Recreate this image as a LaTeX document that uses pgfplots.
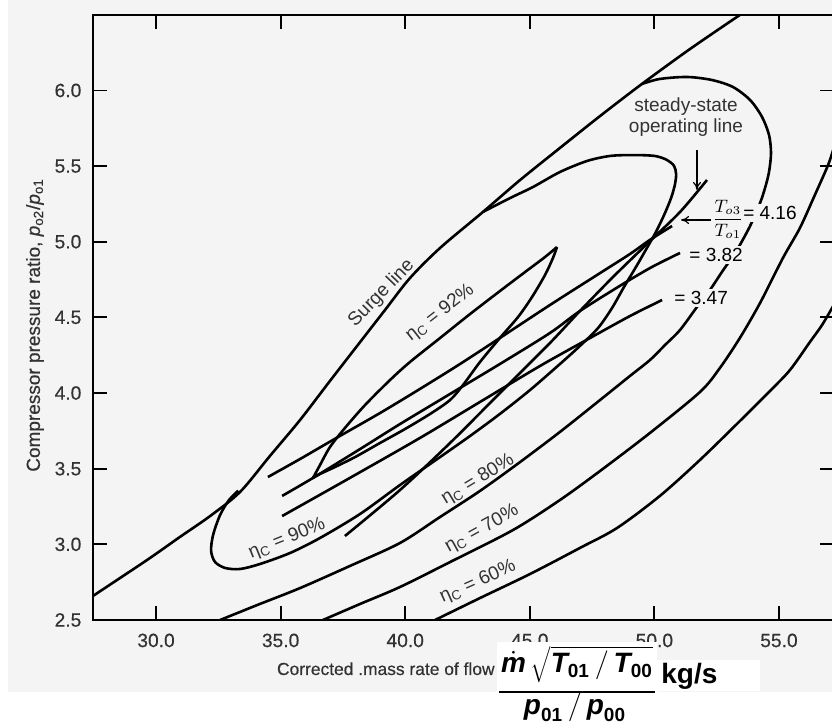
\documentclass[border=0pt]{standalone}
\usepackage{fontspec}
\setmainfont{Liberation Sans}
\newfontfamily\tickfont{Liberation Sans}[FakeBold=0.4]
\usepackage{pgfplots}
\pgfplotsset{compat=1.18}
\usetikzlibrary{arrows.meta}
\definecolor{bg}{RGB}{244,244,244}
\definecolor{txt}{RGB}{50,50,50}
\newcommand{\bi}[1]{\mbox{\bfseries\itshape #1}}
\newcommand{\bsub}[1]{\mbox{\fontsize{9.5}{10}\selectfont\bfseries #1}}
\newcommand{\etac}{η\textsubscript{C}}
\tikzset{
  curve/.style={black, line width=1.3pt, smooth, tension=0.5},
  lbl/.style={font=\fontsize{9.5}{11}\selectfont, text=txt, inner sep=0pt},
}
\begin{document}
\begin{tikzpicture}
\useasboundingbox (0,0) rectangle (416pt,361pt);
\fill[bg] (4pt,15pt) rectangle (416pt,361pt);
\begin{axis}[
  at={(46.5pt,51pt)}, anchor=south west, scale only axis,
  width=370.4pt, height=302.6pt,
  xmin=27.47, xmax=57.2, ymin=2.5, ymax=6.5,
  xtick={30,35,40,45,50,55}, xticklabels={30.0,35.0,40.0,45.0,50.0,55.0},
  ytick={2.5,3,3.5,4,4.5,5,5.5,6}, yticklabels={2.5,3.0,3.5,4.0,4.5,5.0,5.5,6.0},
  tick align=inside, major tick length=7pt,
  tick style={line width=0.9pt, black},
  axis line style={line width=1pt},
  tick label style={font=\tickfont\fontsize{9.6}{11}\selectfont, text=txt},
  xticklabel style={yshift=-3.3pt},
  yticklabel style={xshift=-2.3pt},
  clip mode=individual,
]
% surge line
\addplot[curve] coordinates {(27.47,2.659) (28.56,2.778) (29.76,2.910) (30.96,3.049) (32.17,3.187) (33.37,3.346) (34.57,3.584) (35.78,3.822) (36.98,4.080) (38.19,4.337) (39.19,4.549) (40.19,4.760) (41.40,4.959) (43.12,5.197) (44.61,5.408) (46.21,5.620) (47.82,5.831) (49.50,6.043) (51.43,6.274) (53.43,6.499)};
% eta = 90%
\addplot[curve] coordinates {(43.12,5.197) (44.21,5.289) (45.13,5.362) (46.21,5.461) (47.30,5.534) (48.22,5.567) (49.14,5.573) (50.02,5.567) (50.51,5.540) (50.79,5.501) (50.87,5.448) (50.83,5.382) (50.67,5.289) (50.39,5.177) (50.06,5.064) (49.70,4.959) (49.26,4.833) (48.78,4.701) (48.30,4.562) (47.74,4.430) (47.01,4.311) (46.21,4.192) (45.01,4.020) (43.80,3.862) (42.60,3.716) (41.40,3.577) (39.79,3.392) (38.19,3.201) (36.58,3.042) (35.38,2.943) (34.17,2.870) (33.37,2.837) (32.77,2.844) (32.37,2.883) (32.21,2.956) (32.29,3.062) (32.57,3.194) (32.93,3.293) (33.30,3.355)};
% eta = 92% (upper and lower branch)
\addplot[curve] coordinates {(36.30,3.439) (36.58,3.524) (36.98,3.643) (37.58,3.769) (38.39,3.921) (39.39,4.086) (40.19,4.205) (41.40,4.364) (42.60,4.522) (43.80,4.674) (44.81,4.800) (45.61,4.899) (46.09,4.965)};
\addplot[curve] coordinates {(46.09,4.965) (45.93,4.893) (45.61,4.780) (45.09,4.635) (44.53,4.503) (43.80,4.364) (43.00,4.205) (42.32,4.053) (41.80,3.954) (41.00,3.862) (39.99,3.762) (38.99,3.670) (37.99,3.577) (37.18,3.511) (36.58,3.465) (36.30,3.439)};
% T03/T01 = 4.16
\addplot[curve] coordinates {(34.49,3.445) (35.78,3.564) (37.10,3.690) (38.99,3.868) (40.59,4.027) (42.20,4.192) (43.80,4.364) (45.81,4.582) (47.82,4.793) (49.02,4.919) (49.82,5.012) (50.71,5.104)};
% T03/T01 = 3.82
\addplot[curve] coordinates {(35.06,3.320) (36.30,3.439) (38.19,3.630) (39.79,3.795) (41.80,3.994) (43.80,4.192) (45.81,4.397) (47.01,4.542) (48.74,4.721) (49.90,4.833) (51.03,4.926)};
% T03/T01 = 3.47
\addplot[curve] coordinates {(35.06,3.187) (37.78,3.439) (40.59,3.703) (43.00,3.941) (45.41,4.179) (47.42,4.364) (49.02,4.509) (50.31,4.615)};
% steady-state operating line
\addplot[curve] coordinates {(37.58,3.055) (39.79,3.359) (41.80,3.670) (43.80,4.000) (45.81,4.331) (47.01,4.542) (48.34,4.767) (49.70,4.985) (51.03,5.197) (52.11,5.408)};
% eta = 80%
\addplot[curve] coordinates {(32.57,2.5) (34.17,2.606) (35.78,2.711) (37.78,2.857) (39.79,3.009) (41.40,3.181) (43.00,3.353) (44.61,3.544) (46.21,3.743) (47.82,3.954) (49.02,4.113) (49.82,4.218) (50.43,4.318) (51.03,4.417) (51.71,4.569) (52.23,4.681) (52.71,4.800) (53.31,4.945) (53.84,5.104) (54.24,5.256) (54.44,5.355) (54.60,5.461) (54.68,5.587) (54.60,5.706) (54.32,5.825) (53.84,5.937) (53.15,6.023) (52.31,6.069) (51.31,6.089) (50.22,6.076) (49.50,6.043)};
% eta = 70%
\addplot[curve] coordinates {(36.70,2.5) (38.19,2.606) (39.79,2.718) (41.80,2.883) (44.33,3.095) (46.21,3.293) (47.82,3.485) (49.82,3.736) (51.83,4.007) (52.63,4.166) (53.43,4.364) (54.24,4.595) (55.16,4.893) (55.84,5.091) (56.44,5.309) (56.97,5.507) (57.2,5.62)};
% eta = 60%
\addplot[curve] coordinates {(41.20,2.5) (43.00,2.645) (45.01,2.804) (47.01,2.976) (48.50,3.108) (50.22,3.320) (51.83,3.558) (53.43,3.815) (54.64,4.014) (55.44,4.152) (56.24,4.337) (56.73,4.450) (57.2,4.582)};

% labels
\node[lbl, rotate=46] at (axis cs:39.05,4.66) {Surge line};
\node[lbl, rotate=38] at (axis cs:41.40,4.53) {\etac{} = 92\%};
\node[lbl, rotate=22] at (axis cs:35.26,3.035) {\etac{} = 90\%};
\node[lbl, rotate=31] at (axis cs:42.92,3.425) {\etac{} = 80\%};
\node[lbl, rotate=29] at (axis cs:43.08,3.10) {\etac{} = 70\%};
\node[lbl, rotate=24] at (axis cs:42.92,2.75) {\etac{} = 60\%};
\node[align=center, font=\fontsize{9.5}{10.5}\selectfont, text=txt] at (axis cs:51.27,5.825) {steady-state\\operating line};
\draw[-{To[length=4pt,width=4pt]}, line width=0.6pt] (axis cs:51.71,5.606) -- (axis cs:51.71,5.342);
\draw[-{To[length=4pt,width=4pt]}, line width=0.6pt] (axis cs:52.27,5.144) -- (axis cs:51.07,5.144);
\node[inner sep=0pt, font=\fontsize{9}{10}\selectfont] at (axis cs:52.95,5.150) {$\displaystyle\frac{T_{o3}}{T_{o1}}$};
\node[anchor=west, fill=bg, inner sep=1pt, font=\fontsize{9.5}{10}\selectfont] at (axis cs:53.47,5.190) {= 4.16};
\node[anchor=west, fill=bg, inner sep=1pt, font=\fontsize{9.5}{10}\selectfont] at (axis cs:51.31,4.912) {= 3.82};
\node[anchor=west, fill=bg, inner sep=1pt, font=\fontsize{9.5}{10}\selectfont] at (axis cs:50.71,4.628) {= 3.47};
\end{axis}
\begin{scope}[x=0.5pt, y=-0.5pt, shift={(0pt,361pt)}]
\node[rotate=90, font=\tickfont\fontsize{9.5}{11}\selectfont, text=txt] at (35,325) {Compressor pressure ratio, \textit{p}\textsubscript{o2}/\textit{p}\textsubscript{o1}};
\node[anchor=base east, font=\tickfont\fontsize{8.7}{10}\selectfont, text=txt, inner sep=0pt] at (495,675) {Corrected .mass rate of flow};
% unit of the x axis, on a white patch as in the reference
\fill[white] (497,642) rectangle (657,722);
\fill[white] (657,660) rectangle (760,691);
\node[anchor=base, inner sep=0pt, font=\fontsize{14}{16}\selectfont] at (577,673)
  {$\dot{\bi{m}}\,\sqrt{\bi{T}_{\bsub{01}}\,/\,\bi{T}_{\bsub{00}}}$};
\draw[line width=1pt] (499,692) -- (655,692);
\node[anchor=base, inner sep=0pt, font=\fontsize{14}{16}\selectfont] at (575,715)
  {$\bi{p}_{\bsub{01}}\,/\,\bi{p}_{\bsub{00}}$};
\node[anchor=base west, inner sep=0pt, font=\fontsize{14}{16}\selectfont\bfseries] at (661,684) {kg/s};
\end{scope}
\end{tikzpicture}
\end{document}
